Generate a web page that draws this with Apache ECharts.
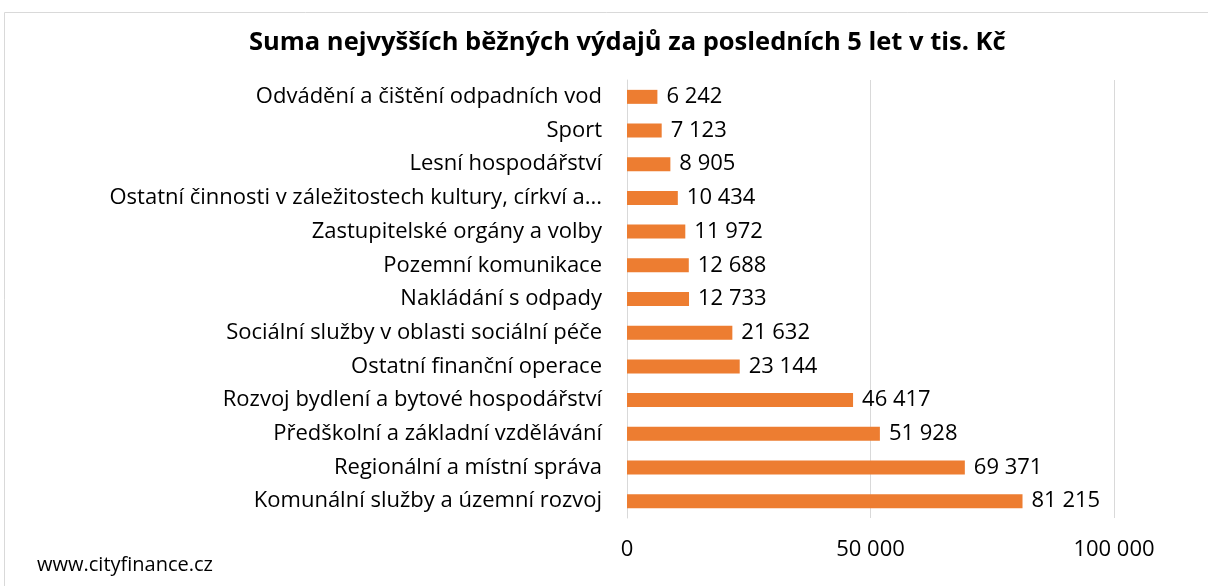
<!DOCTYPE html>
<html>
<head>
<meta charset="utf-8">
<script src="https://cdn.jsdelivr.net/npm/echarts@6/dist/echarts.min.js"></script>
<style>
  html, body { margin: 0; padding: 0; background: #fff; }
  #chart { width: 1208px; height: 586px; }
</style>
</head>
<body>
<div id="chart"></div>
<script>
var categories = [
  'Odvádění a čištění odpadních vod',
  'Sport',
  'Lesní hospodářství',
  'Ostatní činnosti v záležitostech kultury, církví a...',
  'Zastupitelské orgány a volby',
  'Pozemní komunikace',
  'Nakládání s odpady',
  'Sociální služby v oblasti sociální péče',
  'Ostatní finanční operace',
  'Rozvoj bydlení a bytové hospodářství',
  'Předškolní a základní vzdělávání',
  'Regionální a místní správa',
  'Komunální služby a územní rozvoj'
];
var values = [6242, 7123, 8905, 10434, 11972, 12688, 12733, 21632, 23144, 46417, 51928, 69371, 81215];
var xTicks = [0, 50000, 100000];

// mezera jako oddelovac tisicu
function fmt(v) {
  return String(v).replace(/\B(?=(\d{3})+(?!\d))/g, ' ');
}

var FONT = '"Open Sans", Lato, sans-serif';
var myChart = echarts.init(document.getElementById('chart'));
var options = {
  backgroundColor: '#fff',
  animation: false,
  title: {
    text: 'Suma nejvyšších běžných výdajů za posledních 5 let v tis. Kč',
    left: 244,
    top: 25,
    textStyle: { fontFamily: FONT, fontSize: 25.5, fontWeight: 'bold', color: '#000' }
  },
  graphic: [{
    type: 'rect',
    shape: { x: 4.5, y: 12.5, width: 1300, height: 700 },
    style: { fill: 'none', stroke: '#d9d9d9', lineWidth: 1 },
    silent: true
  }, {
    type: 'text',
    left: 37,
    top: 555,
    style: { text: 'www.cityfinance.cz', font: '20px ' + FONT, fill: '#000' }
  }],
  grid: { left: 627, right: 94, top: 80, bottom: 68 },
  xAxis: {
    type: 'value',
    min: xTicks[0],
    max: xTicks[xTicks.length - 1],
    interval: 50000,
    axisLine: { show: false },
    axisTick: { show: false },
    splitLine: { show: true, lineStyle: { color: '#d9d9d9' } },
    axisLabel: {
      margin: 21,
      fontFamily: FONT, fontSize: 22, color: '#000',
      formatter: function (v) { return fmt(v); }
    }
  },
  yAxis: {
    type: 'category',
    inverse: true,
    data: categories,
    axisLine: { show: true, lineStyle: { color: '#d9d9d9' } },
    axisTick: { show: false },
    axisLabel: { margin: 25, fontFamily: FONT, fontSize: 22, color: '#000' }
  },
  series: [{
    type: 'bar',
    data: values,
    barWidth: 14,
    itemStyle: { color: '#ED7D31' },
    label: {
      show: true,
      position: 'right',
      distance: 9,
      fontFamily: FONT, fontSize: 22, color: '#000',
      formatter: function (p) { return fmt(p.value); }
    }
  }]
};
myChart.setOption(options);
</script>
</body>
</html>
